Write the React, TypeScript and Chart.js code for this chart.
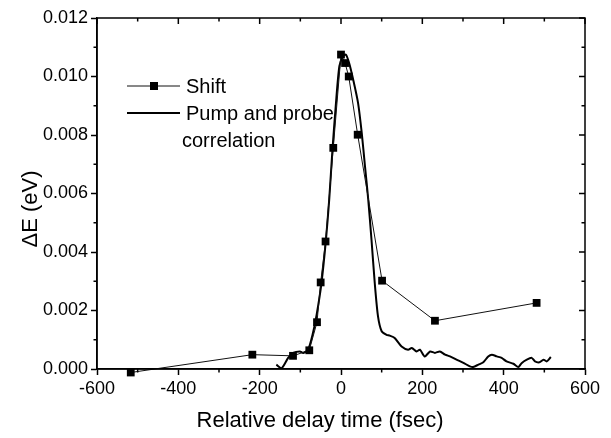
import React, { useEffect, useRef } from "react";
import { Chart, registerables } from "chart.js";

Chart.register(...registerables);

// Shift series (squares)
const shiftX = [-517, -218, -118, -78, -59, -50, -38, -19, 0, 10, 19, 41, 101, 231, 481];
const shiftY = [-0.00012, 0.00049, 0.00045, 0.00064, 0.0016, 0.00296, 0.00436, 0.00756, 0.01075, 0.01046, 0.01, 0.00801, 0.00302, 0.00165, 0.00226];

// Pump and probe correlation (solid line)
const corrX = [
  -159, -146, -130, -118, -101, -93, -81, -69, -60, -48, -37, -29, -21, -13, -4, 5, 12, 20, 30, 42,
  51, 59, 67, 75, 83, 91, 100, 112, 120, 132, 149, 165, 174, 186, 194, 206, 219, 231, 243, 256,
  268, 284, 301, 317, 325, 338, 350, 362, 371, 383, 395, 407, 424, 436, 444, 457, 469, 477, 488, 498,
  506, 516,
];
const corrY = [
  0.00015, 0.00003, 0.00038, 0.00055, 0.0006, 0.00055, 0.00066, 0.00123, 0.00185, 0.00294, 0.00442, 0.00579, 0.0075, 0.00898, 0.01035, 0.01069, 0.01075, 0.01046, 0.00989, 0.00909,
  0.00807, 0.00693, 0.00579, 0.00442, 0.00294, 0.0018, 0.00129, 0.00117, 0.00114, 0.00106, 0.00077, 0.00066, 0.00072, 0.0006, 0.00066, 0.00043, 0.0006, 0.00055, 0.0006, 0.00049,
  0.00043, 0.00032, 0.00021, 0.00009, 0.00007, 0.00015, 0.00023, 0.00043, 0.00049, 0.00043, 0.00038, 0.00026, 0.00018, 0.00007, 0.0002, 0.00032, 0.00038, 0.00026, 0.00023, 0.00032,
  0.00026, 0.00041,
];

const xTicks = [-600, -400, -200, 0, 200, 400, 600];
const yTicks = [0, 0.002, 0.004, 0.006, 0.008, 0.01, 0.012];

const legendLabels = ["Shift", "Pump and probe", "correlation"];
const xTitle = "Relative delay time (fsec)";
const yTitle = "\u0394E (eV)";

const FONT = "'Liberation Sans', Arial, sans-serif";

const framePlugin = {
  id: "frame",
  afterDraw(chart: any) {
    const { ctx, chartArea } = chart;
    const xs = chart.scales.x;
    const ys = chart.scales.y;
    const { left, right, top, bottom } = chartArea;
    ctx.save();
    ctx.strokeStyle = "#000";
    ctx.lineWidth = 1.5;
    ctx.strokeRect(left, top, right - left, bottom - top);
    ctx.beginPath();
    for (let i = 0; i < xTicks.length; i++) {
      const px = xs.getPixelForValue(xTicks[i]);
      ctx.moveTo(px, top);
      ctx.lineTo(px, top + 6);
      if (i < xTicks.length - 1) {
        const mx = xs.getPixelForValue((xTicks[i] + xTicks[i + 1]) / 2);
        ctx.moveTo(mx, top);
        ctx.lineTo(mx, top + 3.5);
        ctx.moveTo(mx, bottom);
        ctx.lineTo(mx, bottom + 3.5);
      }
    }
    for (let i = 0; i < yTicks.length; i++) {
      const py = ys.getPixelForValue(yTicks[i]);
      ctx.moveTo(right, py);
      ctx.lineTo(right - 6, py);
      if (i < yTicks.length - 1) {
        const my = ys.getPixelForValue((yTicks[i] + yTicks[i + 1]) / 2);
        ctx.moveTo(right, my);
        ctx.lineTo(right - 3.5, my);
        ctx.moveTo(left, my);
        ctx.lineTo(left - 3.5, my);
      }
    }
    ctx.stroke();

    // titles
    ctx.fillStyle = "#000";
    ctx.font = `22px ${FONT}`;
    ctx.textAlign = "center";
    ctx.textBaseline = "alphabetic";
    ctx.fillText(xTitle, 320, 427);
    ctx.save();
    ctx.translate(37, 209);
    ctx.rotate(-Math.PI / 2);
    ctx.fillText(yTitle, 0, 0);
    ctx.restore();

    // legend
    ctx.lineWidth = 1;
    ctx.strokeStyle = "#111";
    ctx.beginPath();
    ctx.moveTo(127, 86);
    ctx.lineTo(180, 86);
    ctx.stroke();
    ctx.fillStyle = "#000";
    ctx.fillRect(150, 82, 8, 8);
    ctx.lineWidth = 2;
    ctx.strokeStyle = "#000";
    ctx.beginPath();
    ctx.moveTo(127, 113);
    ctx.lineTo(180, 113);
    ctx.stroke();
    ctx.font = `20px ${FONT}`;
    ctx.textAlign = "left";
    ctx.fillText(legendLabels[0], 186, 93);
    ctx.fillText(legendLabels[1], 186, 120);
    ctx.fillText(legendLabels[2], 182, 147);
    ctx.restore();
  },
};

export default function App() {
  const ref = useRef<HTMLCanvasElement | null>(null);
  useEffect(() => {
    if (!ref.current) return;
    const chart = new Chart(ref.current, {
      type: "scatter",
      data: {
        datasets: [
          {
            label: "Shift",
            data: shiftX.map((x, i) => ({ x, y: shiftY[i] })),
            showLine: true,
            borderColor: "#111",
            borderWidth: 1,
            pointStyle: "rect",
            pointRadius: 5.5,
            pointBackgroundColor: "#000",
            pointBorderColor: "#000",
            pointBorderWidth: 0,
            tension: 0,
            clip: 10,
          },
          {
            label: "Pump and probe correlation",
            data: corrX.map((x, i) => ({ x, y: corrY[i] })),
            showLine: true,
            borderColor: "#000",
            borderWidth: 2,
            pointRadius: 0,
            tension: 0.25,
          },
        ],
      },
      options: {
        animation: false,
        responsive: true,
        maintainAspectRatio: false,
        layout: { padding: { top: 18, right: 26, left: 0, bottom: 0 } },
        plugins: { legend: { display: false }, tooltip: { enabled: false } },
        scales: {
          x: {
            type: "linear",
            min: -600,
            max: 600,
            afterBuildTicks: (s: any) => {
              s.ticks = xTicks.map((v) => ({ value: v }));
            },
            afterFit: (s: any) => {
              s.height = 69;
            },
            ticks: {
              color: "#000",
              font: { family: FONT, size: 18 },
              padding: 3,
              maxRotation: 0,
              autoSkip: false,
              callback: (v: any) => String(v),
            },
            grid: {
              drawOnChartArea: false,
              drawTicks: true,
              tickLength: 6,
              tickWidth: 1.5,
              tickColor: "#000",
            },
            border: { display: true, color: "#000", width: 1.5 },
          },
          y: {
            type: "linear",
            min: 0,
            max: 0.012,
            afterBuildTicks: (s: any) => {
              s.ticks = yTicks.map((v) => ({ value: v }));
            },
            afterFit: (s: any) => {
              s.width = 97;
            },
            ticks: {
              color: "#000",
              font: { family: FONT, size: 18 },
              padding: 3,
              autoSkip: false,
              callback: (v: any) => Number(v).toFixed(3),
            },
            grid: {
              drawOnChartArea: false,
              drawTicks: true,
              tickLength: 6,
              tickWidth: 1.5,
              tickColor: "#000",
            },
            border: { display: true, color: "#000", width: 1.5 },
          },
        },
      },
      plugins: [framePlugin],
    });
    return () => chart.destroy();
  }, []);
  return (
    <div style={{ position: "fixed", left: 0, top: 0, width: 611, height: 438, background: "#fff" }}>
      <canvas ref={ref} />
    </div>
  );
}
